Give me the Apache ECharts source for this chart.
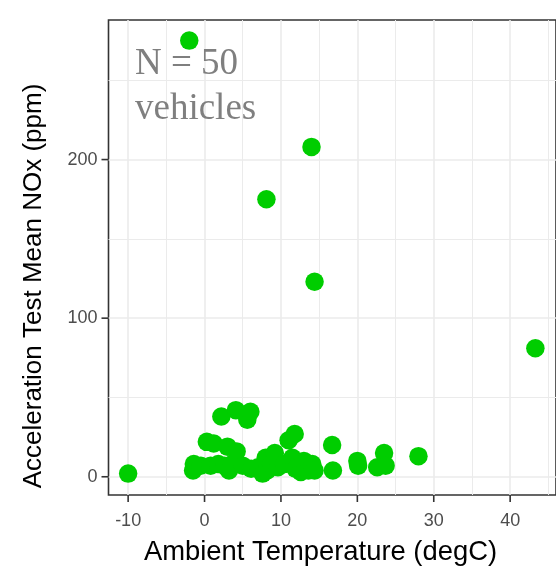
<!DOCTYPE html>
<html>
<head>
<meta charset="utf-8">
<script src="https://cdn.jsdelivr.net/npm/echarts@6/dist/echarts.min.js"></script>
<style>
html,body{margin:0;padding:0;background:#fff;}
#chart{width:556px;height:567px;}
</style>
</head>
<body>
<div id="chart"></div>
<script>
// Tick values
const xMajorTicks = [-10, 0, 10, 20, 30, 40];
const xMinorTicks = [-5, 5, 15, 25, 35, 45];
const yMajorTicks = [0, 100, 200];
const yMinorTicks = [50, 150, 250];

// Ambient temperature (degC) per vehicle
const temperature = [
  -2.0, 14.0, 8.1, 14.4, 43.3,
  -10.0, -1.5, -1.4, -0.5, 0.3, 1.2, 0.8, 1.8, 2.2, 2.6,
  3.0, 3.2, 3.6, 4.1, 4.2, 5.0, 5.6, 6.0, 6.1, 7.0,
  7.6, 8.0, 8.2, 8.7, 9.2, 9.6, 10.4, 11.0, 11.5, 11.8,
  11.9, 12.3, 12.6, 13.0, 13.6, 14.1, 14.4, 16.7, 16.8, 20.0,
  20.1, 22.6, 23.5, 23.7, 28.0
];
// Acceleration test mean NOx (ppm) per vehicle
const meanNOx = [
  275, 208, 175, 123, 81,
  2, 4, 8, 7, 22, 21, 7, 8, 38, 7,
  19, 4, 8, 42, 16, 7, 36, 41, 5, 6,
  2, 12, 4, 8, 15, 6, 8, 23, 12, 27,
  5, 7, 3, 10, 4, 8, 4, 20, 4, 10,
  7, 6, 15, 7, 13
];

const annotationText = 'N = 50\nvehicles';
const xTitle = 'Ambient Temperature (degC)';
const yTitle = 'Acceleration Test Mean NOx (ppm)';

const xMin = -12.57, xMax = 46;
const yMin = -11.5, yMax = 288;

const points = temperature.map((t, i) => [t, meanNOx[i]]);

const gridColor = '#EBEBEB';
const gridLines = [];
xMajorTicks.forEach(v => gridLines.push({xAxis: v, lineStyle: {width: 1.6, color: gridColor, type: 'solid'}}));
xMinorTicks.forEach(v => gridLines.push({xAxis: v, lineStyle: {width: 1.0, color: gridColor, type: 'solid'}}));
yMajorTicks.forEach(v => gridLines.push({yAxis: v, lineStyle: {width: 1.6, color: gridColor, type: 'solid'}}));
yMinorTicks.forEach(v => gridLines.push({yAxis: v, lineStyle: {width: 1.0, color: gridColor, type: 'solid'}}));

const tickLen = 7;

const chart = echarts.init(document.getElementById('chart'), null, {renderer: 'canvas'});
chart.setOption({
  animation: false,
  grid: {
    left: 108.5, top: 20, right: -10.5, bottom: 72,
    show: true, borderColor: '#333333', borderWidth: 1.6
  },
  xAxis: {
    type: 'value', min: xMin, max: xMax,
    axisLine: {show: false, onZero: false},
    axisTick: {show: false},
    axisLabel: {customValues: xMajorTicks, fontSize: 18, color: '#4D4D4D', fontFamily: 'Liberation Sans', margin: 17},
    splitLine: {show: false}
  },
  yAxis: {
    type: 'value', min: yMin, max: yMax,
    axisLine: {show: false, onZero: false},
    axisTick: {show: false},
    axisLabel: {customValues: yMajorTicks, fontSize: 18, color: '#4D4D4D', fontFamily: 'Liberation Sans', margin: 11},
    splitLine: {show: false}
  },
  series: [
    {
      type: 'scatter', data: [], z: 1,
      markLine: {silent: true, z: 1, symbol: ['none', 'none'], label: {show: false}, animation: false, data: gridLines}
    },
    {
      // x-axis tick marks (below the panel)
      type: 'custom', clip: false, z: 5,
      data: xMajorTicks.map(v => [v, 0]),
      renderItem: function (params, api) {
        const p = api.coord([api.value(0), api.value(1)]);
        const cs = params.coordSys;
        const yb = cs.y + cs.height;
        return {type: 'line', shape: {x1: p[0], y1: yb, x2: p[0], y2: yb + tickLen}, style: {stroke: '#333333', lineWidth: 1.6}};
      }
    },
    {
      // y-axis tick marks (left of the panel)
      type: 'custom', clip: false, z: 5,
      data: yMajorTicks.map(v => [0, v]),
      renderItem: function (params, api) {
        const p = api.coord([api.value(0), api.value(1)]);
        const cs = params.coordSys;
        const xl = cs.x;
        return {type: 'line', shape: {x1: xl - tickLen, y1: p[1], x2: xl, y2: p[1]}, style: {stroke: '#333333', lineWidth: 1.6}};
      }
    },
    {
      type: 'scatter', data: points, z: 3,
      symbol: 'circle', symbolSize: 18.5,
      itemStyle: {color: '#00CD00', opacity: 1}
    }
  ],
  graphic: [
    {
      type: 'text', left: 135, top: 42, z: 10,
      style: {text: annotationText, font: '37px "Liberation Serif"', fill: '#7F7F7F', lineHeight: 45}
    },
    {
      type: 'text', x: 320.5, y: 552, z: 10,
      style: {text: xTitle, font: '27.4px "Liberation Sans"', fill: '#000000', align: 'center', verticalAlign: 'middle'}
    },
    {
      type: 'text', x: 34, y: 286, rotation: Math.PI / 2, z: 10,
      style: {text: yTitle, font: '26px "Liberation Sans"', fill: '#000000', align: 'center', verticalAlign: 'middle'}
    }
  ]
});
</script>
</body>
</html>
